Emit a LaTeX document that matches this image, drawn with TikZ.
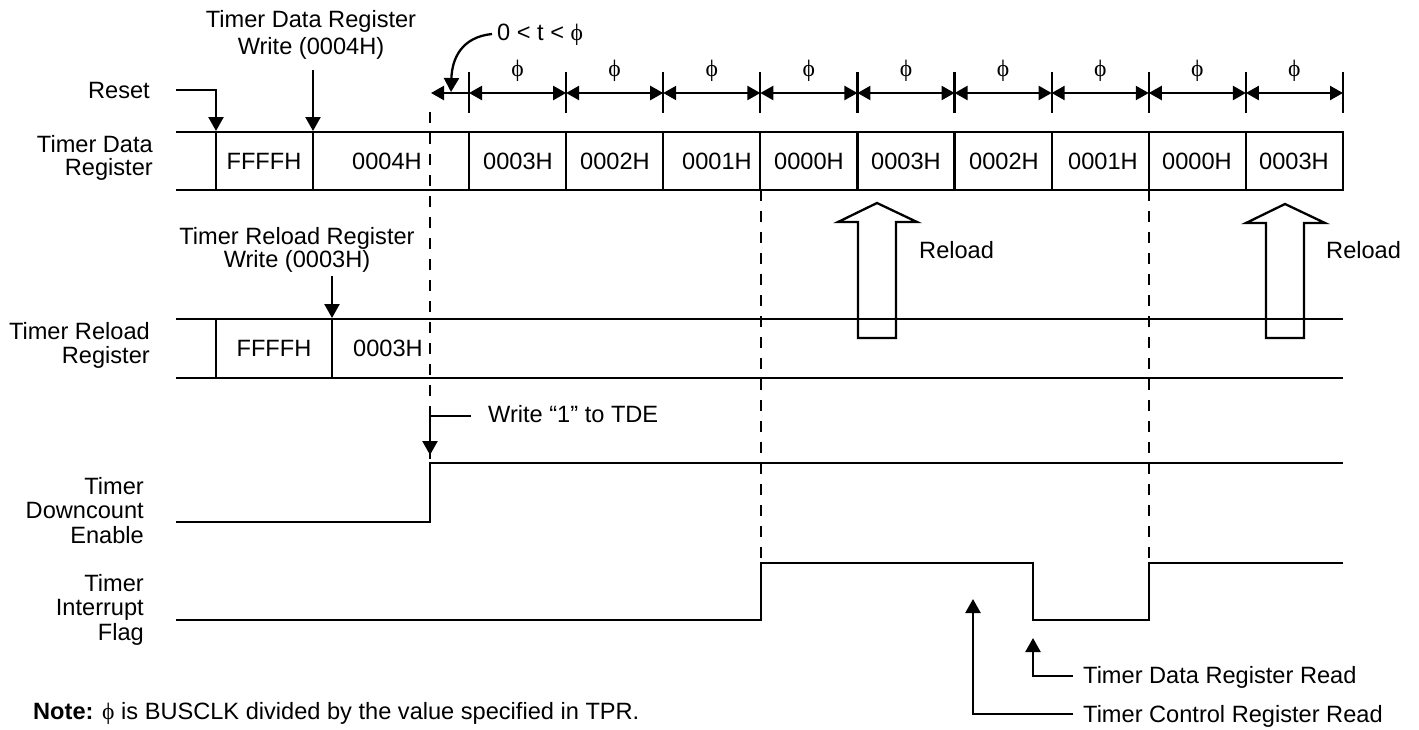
\documentclass[tikz,border=0pt]{standalone}
\usepackage{fontspec}
\setmainfont{Liberation Sans}
\newfontfamily\phifont{Liberation Serif}
\newcommand{\uphi}{{\phifont ϕ}}
\usetikzlibrary{arrows.meta}
\begin{document}
\begin{tikzpicture}[x=1pt,y=-1pt,
  sig/.style={line width=2.3pt},
  dline/.style={line width=2.3pt, dash pattern=on 11pt off 10pt},
  arr/.style={line width=2.3pt, -{Triangle[length=14pt,width=15pt]}},
  dimarr/.style={line width=2.3pt, {Triangle[length=13pt,width=14pt]}-{Triangle[length=13pt,width=14pt]}},
  txt/.style={inner sep=0pt, font=\fontsize{23.6}{24}\selectfont},
  celltxt/.style={inner sep=0pt, anchor=center, font=\fontsize{23.6}{24}\selectfont},
  outarrow/.style={line width=2.3pt, line join=miter}]
\useasboundingbox (0,0) rectangle (1419,729);

% dashed reference lines
\draw[dline] (430,112) -- (430,463);
\draw[dline] (761.3,190) -- (761.3,563);
\draw[dline] (1149,190) -- (1149,563);

% ---------- top labels ----------
\node[txt, anchor=north, align=center, font=\fontsize{23.6}{27}\selectfont] (tdrw) at (311,10) {Timer Data Register\\Write (0004H)};
\node[txt, anchor=base east] (reset) at (150,98) {Reset};
\coordinate (resetstart) at (176,90);
\coordinate (resetcorner) at (216,90);
\coordinate (resettip) at (216,131);
\draw[arr] (resetstart) -- (resetcorner) -- (resettip);
\coordinate (tdrwtop) at (313,70);
\coordinate (tdrwtip) at (313,131);
\draw[arr] (tdrwtop) -- (tdrwtip);

% ---------- timing dimensions ----------
\foreach \k in {0,...,9} {
  \pgfmathsetmacro{\xx}{469+97.11*\k}
  \coordinate (t\k) at (\xx,93);
  \draw[sig] (\xx,72) -- (\xx,113);
}
\coordinate (tleft) at (431,93);
\draw[line width=2.3pt, {Triangle[length=13pt,width=14pt]}-] (tleft) -- (t0);
\foreach \k [evaluate=\k as \n using int(\k+1)] in {0,...,8} {
  \draw[dimarr] (t\k) -- (t\n);
  \pgfmathsetmacro{\xm}{469+97.11*\k+48.55}
  \node[txt] (phi\k) at (\xm,71) {\uphi};
}
\node[txt, anchor=base west] (tlabel) at (497,40) {0 < t < \uphi};
\coordinate (curvestart) at (492,34);
\coordinate (curvetip) at (451,92);
\draw[arr] (curvestart) .. controls (462,37) and (452,58) .. (curvetip);

% ---------- Timer Data Register ----------
\node[txt, anchor=north east, align=right, font=\fontsize{23.6}{23}\selectfont] (tdrlabel) at (153,135) {Timer Data\\Register};
\draw[sig] (176,132) -- (1343,132) -- (1343,190) -- (176,190);
\foreach \x in {216,313} \draw[sig] (\x,132) -- (\x,190);
\foreach \k in {0,...,8} {
  \pgfmathsetmacro{\xx}{469+97.11*\k}
  \draw[sig] (\xx,132) -- (\xx,190);
}
\node[celltxt] (d1) at (264,161) {FFFFH};
\node[celltxt] (d2) at (387,161) {0004H};
\node[celltxt] (d3) at (518,161) {0003H};
\node[celltxt] (d4) at (615,161) {0002H};
\node[celltxt] (d5) at (717,161) {0001H};
\node[celltxt] (d6) at (809,161) {0000H};
\node[celltxt] (d7) at (906,161) {0003H};
\node[celltxt] (d8) at (1004,161) {0002H};
\node[celltxt] (d9) at (1103,161) {0001H};
\node[celltxt] (d10) at (1197,161) {0000H};
\node[celltxt] (d11) at (1294,161) {0003H};

% ---------- Reload arrows ----------
\draw[outarrow] (858,338) -- (858,222) -- (838,222) -- (877,203) -- (917,222) -- (896,222) -- (896,338) -- cycle;
\draw[outarrow] (1266,338) -- (1266,223) -- (1246,223) -- (1285,204) -- (1325,223) -- (1304,223) -- (1304,338) -- cycle;
\node[txt, anchor=base west] (reload1) at (919,258) {Reload};
\node[txt, anchor=base west] (reload2) at (1326,258) {Reload};

% ---------- Timer Reload Register ----------
\node[txt, anchor=north, align=center, font=\fontsize{23.6}{20.5}\selectfont] (trrw) at (297,227) {Timer Reload Register\\Write (0003H)};
\coordinate (trrwtop) at (332,276);
\coordinate (trrwtip) at (332,318);
\draw[arr] (trrwtop) -- (trrwtip);
\node[txt, anchor=north east, align=right, font=\fontsize{23.6}{24.5}\selectfont] (trrlabel) at (150,322) {Timer Reload\\Register};
\draw[sig] (176,319) -- (1343,319);
\draw[sig] (176,378) -- (1343,378);
\foreach \x in {216,332} \draw[sig] (\x,319) -- (\x,378);
\node[celltxt] (r1) at (274,348) {FFFFH};
\node[celltxt] (r2) at (388,348) {0003H};

% ---------- Timer Downcount Enable ----------
\node[txt, anchor=base west] (w1) at (488,422) {Write “1” to TDE};
\coordinate (w1start) at (471,416);
\coordinate (w1corner) at (430,416);
\coordinate (w1tip) at (430,455);
\draw[arr] (w1start) -- (w1corner) -- (w1tip);
\node[txt, anchor=north east, align=right, font=\fontsize{23.6}{24.5}\selectfont] (tdelabel) at (144,477) {Timer\\Downcount\\Enable};
\draw[sig] (176,522) -- (430,522) -- (430,463) -- (1343,463);

% ---------- Timer Interrupt Flag ----------
\node[txt, anchor=north east, align=right, font=\fontsize{23.6}{24.5}\selectfont] (tiflabel) at (144,574) {Timer\\Interrupt\\Flag};
\draw[sig] (176,620) -- (761.3,620) -- (761.3,563) -- (1033,563) -- (1033,620) -- (1149,620) -- (1149,563) -- (1343,563);

\node[txt, anchor=base west] (tcrr) at (1083,722) {Timer Control Register Read};
\node[txt, anchor=base west] (tdrr) at (1083,683) {Timer Data Register Read};
\coordinate (tcrstart) at (1073,714);
\coordinate (tcrcorner) at (973,714);
\coordinate (tcrtip) at (973,599);
\draw[arr] (tcrstart) -- (tcrcorner) -- (tcrtip);
\coordinate (tdrstart) at (1073,676);
\coordinate (tdrcorner) at (1033,676);
\coordinate (tdrtip) at (1033,638);
\draw[arr] (tdrstart) -- (tdrcorner) -- (tdrtip);

% ---------- Note ----------
\node[txt, anchor=base west] (note) at (33,719) {\textbf{Note:} \uphi{} is BUSCLK divided by the value specified in TPR.};
\end{tikzpicture}
\end{document}
